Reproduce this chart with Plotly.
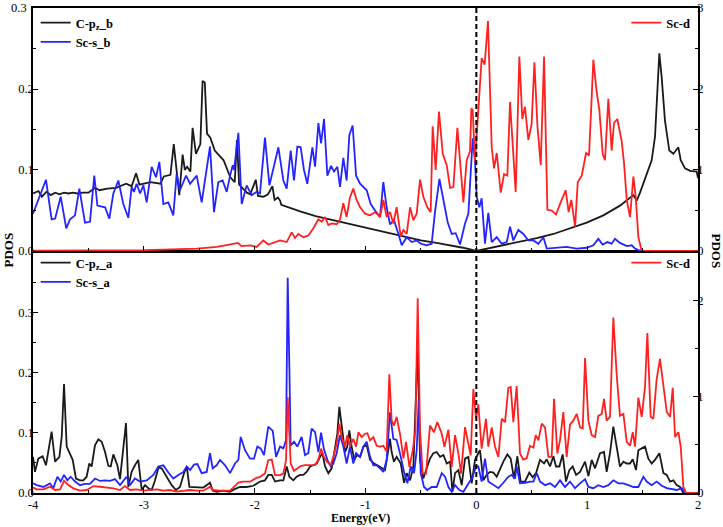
import plotly.graph_objects as go

# ---------------- Top panel (b) ----------------
top_cpz_E = [-4.00,-3.95,-3.92,-3.88,-3.84,-3.80,-3.76,-3.72,-3.68,-3.64,-3.60,-3.55,-3.50,-3.44,-3.40,-3.33,-3.25,-3.16,-3.11,-3.07,-3.04,-2.94,-2.85,-2.82,-2.76,-2.73,-2.68,-2.65,-2.63,-2.61,-2.58,-2.56,-2.53,-2.49,-2.47,-2.45,-2.43,-2.40,-2.36,-2.28,-2.22,-2.18,-2.16,-2.14,-2.07,-2.04,-1.99,-1.97,-1.92,-1.88,-1.84,-1.82,-1.79,-1.77,-1.76,-1.70,-1.59,-1.45,-1.29,-1.14,-0.99,-0.84,-0.69,-0.50,-0.36,-0.24,-0.12,0.00,0.244,0.394,0.545,0.695,0.845,0.996,1.146,1.296,1.417,1.447,1.477,1.537,1.582,1.612,1.651,1.672,1.702,1.741,1.778,1.823,1.844,1.883,1.928,1.988,2.00]
top_cpz_v = [0.071,0.074,0.067,0.073,0.069,0.072,0.070,0.072,0.071,0.072,0.071,0.072,0.072,0.078,0.075,0.077,0.078,0.083,0.080,0.096,0.082,0.085,0.083,0.092,0.094,0.132,0.069,0.119,0.100,0.104,0.098,0.152,0.120,0.132,0.210,0.208,0.145,0.140,0.124,0.112,0.091,0.085,0.137,0.082,0.072,0.070,0.088,0.068,0.067,0.070,0.080,0.063,0.066,0.062,0.057,0.054,0.049,0.043,0.038,0.033,0.028,0.023,0.019,0.013,0.010,0.007,0.004,0.000,0.007,0.011,0.016,0.021,0.028,0.035,0.044,0.056,0.069,0.062,0.072,0.095,0.112,0.141,0.244,0.215,0.161,0.124,0.120,0.128,0.112,0.102,0.099,0.098,0.090]

top_scs_E = [-4.00,-3.967,-3.883,-3.832,-3.80,-3.75,-3.70,-3.666,-3.621,-3.582,-3.531,-3.486,-3.447,-3.419,-3.35,-3.311,-3.275,-3.23,-3.185,-3.14,-3.11,-3.089,-3.065,-3.034,-3.004,-2.974,-2.929,-2.89,-2.86,-2.824,-2.779,-2.734,-2.704,-2.674,-2.619,-2.583,-2.523,-2.478,-2.448,-2.403,-2.367,-2.328,-2.289,-2.252,-2.222,-2.198,-2.186,-2.147,-2.117,-2.072,-2.027,-1.982,-1.952,-1.907,-1.867,-1.825,-1.786,-1.741,-1.711,-1.675,-1.645,-1.615,-1.585,-1.555,-1.525,-1.479,-1.455,-1.425,-1.401,-1.374,-1.344,-1.311,-1.284,-1.254,-1.23,-1.20,-1.17,-1.146,-1.116,-1.085,-1.049,-0.989,-0.953,-0.914,-0.869,-0.839,-0.809,-0.779,-0.743,-0.703,-0.673,-0.628,-0.583,-0.538,-0.502,-0.448,-0.403,-0.373,-0.333,-0.297,-0.258,-0.222,-0.186,-0.147,-0.102,-0.072,-0.033,-0.012,0.003,0.027,0.048,0.078,0.108,0.139,0.184,0.229,0.274,0.304,0.334,0.379,0.424,0.469,0.515,0.56,0.605,0.635,0.725,0.815,0.906,0.996,1.056,1.101,1.14,1.182,1.221,1.251,1.296,1.357,1.402,1.432,1.462,1.507,2.00]
top_scs_v = [0.046,0.058,0.088,0.039,0.040,0.067,0.028,0.039,0.044,0.077,0.035,0.036,0.093,0.056,0.054,0.040,0.071,0.087,0.058,0.041,0.079,0.073,0.083,0.071,0.081,0.060,0.104,0.091,0.110,0.058,0.060,0.044,0.095,0.075,0.093,0.083,0.093,0.060,0.087,0.129,0.048,0.085,0.087,0.073,0.093,0.106,0.100,0.146,0.058,0.081,0.069,0.073,0.071,0.140,0.081,0.104,0.128,0.087,0.077,0.124,0.087,0.129,0.128,0.100,0.083,0.128,0.104,0.158,0.133,0.163,0.093,0.105,0.098,0.104,0.079,0.115,0.087,0.143,0.155,0.093,0.083,0.075,0.058,0.050,0.042,0.085,0.054,0.033,0.038,0.021,0.007,0.017,0.011,0.013,0.009,0.007,0.009,0.048,0.089,0.063,0.035,0.021,0.022,0.008,0.034,0.046,0.139,0.111,0.067,0.054,0.065,0.009,0.047,0.011,0.017,0.009,0.011,0.030,0.013,0.026,0.021,0.013,0.013,0.009,0.017,0.003,0.004,0.005,0.003,0.004,0.007,0.015,0.008,0.011,0.009,0.015,0.010,0.006,0.007,0.003,0.001,0.000,0.000]

top_scd_E = [-4.00,-3.50,-3.00,-2.75,-2.52,-2.34,-2.15,-2.12,-2.04,-1.982,-1.922,-1.877,-1.831,-1.771,-1.711,-1.666,-1.636,-1.606,-1.561,-1.516,-1.47,-1.425,-1.395,-1.365,-1.335,-1.305,-1.26,-1.23,-1.20,-1.17,-1.14,-1.11,-1.085,-1.049,-1.004,-0.959,-0.914,-0.869,-0.839,-0.809,-0.779,-0.749,-0.719,-0.682,-0.658,-0.628,-0.598,-0.568,-0.538,-0.508,-0.478,-0.442,-0.412,-0.394,-0.367,-0.337,-0.303,-0.267,-0.237,-0.207,-0.171,-0.141,-0.117,-0.087,-0.057,-0.045,-0.033,-0.012,0.018,0.048,0.075,0.105,0.139,0.16,0.184,0.22,0.25,0.28,0.304,0.328,0.355,0.388,0.415,0.439,0.469,0.499,0.524,0.551,0.581,0.611,0.641,0.68,0.719,0.761,0.806,0.833,0.857,0.891,0.915,0.951,0.99,1.017,1.056,1.086,1.11,1.14,1.161,1.191,1.221,1.242,1.272,1.312,1.333,1.357,1.387,1.417,1.438,1.462,1.492,2.00]
top_scd_v = [0.005,0.005,0.01,0.02,0.03,0.05,0.10,0.06,0.07,0.05,0.13,0.08,0.10,0.13,0.11,0.23,0.16,0.21,0.17,0.19,0.28,0.39,0.36,0.42,0.32,0.34,0.33,0.39,0.59,0.42,0.66,0.77,0.65,0.54,0.46,0.44,0.48,0.42,0.63,0.42,0.48,0.34,0.54,0.18,0.26,0.21,0.54,0.38,0.46,0.88,0.67,0.54,0.48,1.54,1.00,1.72,1.20,1.06,0.78,0.79,1.52,0.95,0.60,1.12,1.23,1.76,1.74,1.10,1.70,2.38,2.30,2.84,1.28,1.02,1.21,0.72,0.95,0.93,1.84,1.33,0.73,2.40,1.63,1.78,1.37,1.57,2.33,1.55,1.06,2.40,0.51,0.50,0.45,0.60,0.75,0.48,0.63,0.30,0.85,0.93,1.21,1.18,2.36,1.96,1.74,1.20,1.12,1.88,1.24,1.58,1.63,1.35,1.08,0.63,0.42,0.92,0.67,0.17,0.00,0.00]

# ---------------- Bottom panel (a) ----------------
bot_cpz_E = [-4.00,-3.982,-3.952,-3.913,-3.883,-3.832,-3.801,-3.762,-3.741,-3.72,-3.696,-3.666,-3.642,-3.612,-3.576,-3.546,-3.516,-3.492,-3.471,-3.441,-3.41,-3.38,-3.35,-3.32,-3.299,-3.275,-3.239,-3.215,-3.185,-3.161,-3.14,-3.11,-3.08,-3.05,-3.019,-2.989,-2.959,-2.929,-2.899,-2.869,-2.839,-2.794,-2.749,-2.71,-2.674,-2.637,-2.613,-2.589,-2.523,-2.463,-2.403,-2.379,-2.343,-2.283,-2.222,-2.186,-2.132,-2.072,-2.012,-1.952,-1.907,-1.877,-1.846,-1.816,-1.771,-1.741,-1.711,-1.687,-1.651,-1.621,-1.591,-1.561,-1.531,-1.50,-1.47,-1.44,-1.41,-1.389,-1.365,-1.335,-1.305,-1.275,-1.254,-1.236,-1.215,-1.185,-1.164,-1.146,-1.125,-1.10,-1.079,-1.049,-1.019,-0.989,-0.959,-0.923,-0.893,-0.854,-0.824,-0.794,-0.779,-0.764,-0.743,-0.719,-0.682,-0.652,-0.628,-0.598,-0.568,-0.538,-0.529,-0.508,-0.478,-0.448,-0.418,-0.388,-0.358,-0.327,-0.297,-0.267,-0.237,-0.216,-0.192,-0.162,-0.132,-0.102,-0.072,-0.042,-0.012,0.018,0.033,0.063,0.093,0.123,0.154,0.184,0.214,0.244,0.28,0.31,0.34,0.37,0.40,0.439,0.478,0.508,0.539,0.575,0.611,0.635,0.665,0.695,0.719,0.749,0.779,0.809,0.839,0.869,0.90,0.936,0.981,1.011,1.041,1.071,1.116,1.152,1.176,1.206,1.236,1.266,1.296,1.327,1.357,1.387,1.411,1.441,1.462,1.492,1.522,1.552,1.582,1.612,1.652,1.688,1.718,1.748,1.778,1.808,1.838,1.868,2.00]
bot_cpz_v = [0.060,0.035,0.057,0.061,0.046,0.102,0.052,0.060,0.093,0.181,0.077,0.064,0.055,0.024,0.021,0.021,0.027,0.049,0.044,0.079,0.089,0.085,0.068,0.045,0.044,0.064,0.046,0.023,0.074,0.116,0.010,0.035,0.046,0.055,0.005,0.013,0.008,0.005,0.021,0.042,0.041,0.027,0.013,0.005,0.010,0.033,0.044,0.010,0.009,0.009,0.017,0.004,0.002,0.004,0.002,0.006,0.010,0.010,0.012,0.019,0.021,0.030,0.030,0.019,0.021,0.021,0.044,0.027,0.021,0.027,0.030,0.030,0.035,0.044,0.046,0.049,0.060,0.066,0.044,0.033,0.041,0.079,0.099,0.143,0.115,0.068,0.077,0.104,0.077,0.055,0.063,0.060,0.077,0.079,0.055,0.049,0.046,0.041,0.038,0.071,0.090,0.068,0.052,0.060,0.049,0.017,0.033,0.021,0.044,0.198,0.250,0.055,0.024,0.041,0.057,0.066,0.068,0.060,0.063,0.049,0.052,0.002,0.033,0.038,0.013,0.057,0.060,0.016,0.055,0.066,0.071,0.021,0.030,0.035,0.034,0.027,0.041,0.052,0.064,0.057,0.024,0.061,0.019,0.019,0.034,0.026,0.033,0.055,0.049,0.056,0.044,0.061,0.044,0.044,0.064,0.019,0.038,0.044,0.030,0.035,0.052,0.028,0.055,0.041,0.066,0.068,0.035,0.066,0.110,0.074,0.044,0.052,0.049,0.049,0.056,0.038,0.071,0.074,0.077,0.057,0.049,0.055,0.066,0.033,0.030,0.019,0.021,0.013,0.010,0.000,0.000]

bot_scs_E = [-4.00,-3.967,-3.907,-3.847,-3.817,-3.78,-3.75,-3.72,-3.69,-3.66,-3.621,-3.576,-3.531,-3.486,-3.44,-3.395,-3.35,-3.305,-3.26,-3.215,-3.155,-3.125,-3.08,-3.035,-2.974,-2.914,-2.869,-2.824,-2.779,-2.734,-2.689,-2.643,-2.613,-2.583,-2.547,-2.517,-2.478,-2.433,-2.403,-2.379,-2.343,-2.313,-2.267,-2.222,-2.177,-2.147,-2.126,-2.087,-2.042,-2.006,-1.976,-1.946,-1.916,-1.877,-1.837,-1.807,-1.771,-1.741,-1.717,-1.702,-1.687,-1.675,-1.645,-1.615,-1.576,-1.546,-1.516,-1.486,-1.455,-1.425,-1.401,-1.374,-1.344,-1.314,-1.29,-1.26,-1.23,-1.20,-1.17,-1.14,-1.11,-1.085,-1.049,-1.019,-0.989,-0.959,-0.929,-0.899,-0.869,-0.839,-0.809,-0.779,-0.749,-0.719,-0.689,-0.652,-0.622,-0.592,-0.562,-0.538,-0.52,-0.502,-0.472,-0.442,-0.403,-0.358,-0.312,-0.282,-0.252,-0.222,-0.192,-0.153,-0.117,-0.072,-0.033,-0.003,0.018,0.048,0.078,0.108,0.154,0.199,0.244,0.289,0.319,0.349,0.364,0.394,0.439,0.484,0.515,0.545,0.575,0.62,0.665,0.71,0.755,0.80,0.845,0.89,0.936,0.981,1.011,1.056,1.101,1.146,1.191,1.236,1.282,1.327,1.372,1.417,1.462,1.507,1.537,1.582,1.627,1.673,1.718,1.763,1.808,1.853,1.883,2.00]
bot_scs_v = [0.016,0.013,0.010,0.016,0.008,0.027,0.019,0.030,0.021,0.027,0.019,0.013,0.015,0.015,0.024,0.020,0.021,0.020,0.023,0.013,0.027,0.013,0.024,0.019,0.021,0.030,0.044,0.046,0.034,0.024,0.030,0.035,0.044,0.038,0.047,0.048,0.033,0.035,0.066,0.041,0.046,0.055,0.046,0.033,0.049,0.055,0.093,0.071,0.057,0.057,0.077,0.074,0.063,0.110,0.103,0.060,0.077,0.074,0.088,0.357,0.209,0.079,0.085,0.077,0.093,0.063,0.066,0.107,0.101,0.068,0.100,0.072,0.055,0.044,0.049,0.066,0.096,0.077,0.049,0.077,0.049,0.066,0.060,0.077,0.085,0.060,0.046,0.046,0.041,0.035,0.055,0.134,0.090,0.088,0.066,0.035,0.016,0.044,0.033,0.071,0.154,0.033,0.010,0.005,0.010,0.010,0.033,0.027,0.010,0.002,0.013,0.005,0.002,0.016,0.027,0.044,0.044,0.019,0.057,0.019,0.013,0.008,0.017,0.027,0.030,0.024,0.044,0.016,0.017,0.019,0.019,0.033,0.019,0.013,0.016,0.010,0.021,0.010,0.019,0.008,0.016,0.023,0.010,0.008,0.013,0.010,0.013,0.021,0.016,0.016,0.013,0.010,0.010,0.027,0.019,0.013,0.019,0.012,0.008,0.006,0.005,0.008,0.000,0.000]

bot_scd_E = [-4.00,-3.967,-3.907,-3.847,-3.801,-3.756,-3.72,-3.681,-3.636,-3.576,-3.516,-3.456,-3.395,-3.335,-3.275,-3.215,-3.17,-3.125,-3.065,-3.004,-2.944,-2.884,-2.824,-2.764,-2.704,-2.643,-2.583,-2.523,-2.463,-2.403,-2.373,-2.313,-2.222,-2.147,-2.102,-2.042,-1.982,-1.952,-1.907,-1.877,-1.846,-1.816,-1.771,-1.741,-1.717,-1.702,-1.687,-1.675,-1.645,-1.615,-1.585,-1.546,-1.50,-1.455,-1.425,-1.401,-1.374,-1.344,-1.314,-1.29,-1.26,-1.236,-1.215,-1.185,-1.164,-1.14,-1.11,-1.085,-1.064,-1.034,-1.004,-0.983,-0.959,-0.929,-0.899,-0.869,-0.839,-0.809,-0.785,-0.764,-0.743,-0.719,-0.689,-0.658,-0.634,-0.604,-0.574,-0.55,-0.529,-0.508,-0.484,-0.454,-0.418,-0.382,-0.352,-0.312,-0.288,-0.252,-0.222,-0.192,-0.162,-0.138,-0.102,-0.072,-0.051,-0.027,-0.003,0.018,0.048,0.087,0.108,0.139,0.169,0.199,0.229,0.259,0.289,0.31,0.334,0.364,0.394,0.424,0.454,0.484,0.515,0.536,0.56,0.59,0.62,0.65,0.68,0.701,0.731,0.755,0.785,0.815,0.845,0.875,0.906,0.936,0.96,0.981,1.011,1.041,1.071,1.101,1.131,1.152,1.176,1.206,1.236,1.266,1.296,1.327,1.357,1.387,1.411,1.432,1.462,1.492,1.522,1.543,1.573,1.597,1.627,1.657,1.688,1.718,1.748,1.772,1.793,1.823,1.844,1.868,1.892,2.00]
bot_scd_v = [0.058,0.038,0.038,0.065,0.031,0.038,0.127,0.082,0.048,0.024,0.031,0.072,0.065,0.058,0.048,0.031,0.072,0.031,0.038,0.024,0.031,0.038,0.024,0.031,0.014,0.024,0.031,0.024,0.024,0.065,0.031,0.024,0.024,0.107,0.117,0.117,0.158,0.168,0.203,0.340,0.347,0.186,0.186,0.203,0.34,0.993,0.68,0.306,0.23,0.254,0.28,0.289,0.289,0.289,0.347,0.46,0.37,0.32,0.29,0.375,0.51,0.72,0.58,0.48,0.60,0.49,0.56,0.48,0.63,0.58,0.615,0.62,0.546,0.58,0.49,0.48,0.49,0.43,1.23,0.75,0.70,0.79,0.615,0.36,0.53,0.27,0.44,0.65,2.02,0.65,0.20,0.20,0.70,0.63,0.735,0.615,0.48,0.656,0.27,0.60,0.41,0.20,0.684,0.49,0.39,1.08,0.77,0.92,0.46,0.77,0.48,0.68,0.48,0.375,0.77,0.735,1.09,1.10,0.735,1.11,0.41,0.347,0.36,0.49,0.47,0.60,0.546,0.72,0.68,0.375,0.375,0.976,0.41,0.546,0.84,0.375,0.71,0.75,0.82,0.68,0.67,1.40,0.75,0.60,0.58,0.80,0.82,0.976,0.75,0.79,1.82,1.23,0.80,0.82,0.53,0.49,0.63,0.48,0.99,0.79,1.10,1.66,0.79,0.77,1.18,1.39,1.13,0.84,0.79,1.09,0.58,0.63,0.48,0.065,0.0,0.0]

x_ticks = [-4, -3, -2, -1, 0, 1, 2]
top_left_ticks = [0.0, 0.1, 0.2]
top_left_max = 0.3
bot_left_ticks = [0.0, 0.1, 0.2, 0.3]
top_right_ticks = [0, 1, 2, 3]
bot_right_ticks = [0, 1, 2]

BLACK = "#1a1a1a"
BLUE = "#2424ff"
RED = "#ff2020"
FONT = "Liberation Serif"
LW = 1.8

fig = go.Figure()

# bottom panel
fig.add_trace(go.Scatter(x=bot_cpz_E, y=bot_cpz_v, mode="lines", name="C-p<sub>z</sub>_a",
                         line=dict(color=BLACK, width=LW), xaxis="x", yaxis="y", legend="legend3"))
fig.add_trace(go.Scatter(x=bot_scs_E, y=bot_scs_v, mode="lines", name="Sc-s_a",
                         line=dict(color=BLUE, width=LW), xaxis="x", yaxis="y", legend="legend3"))
fig.add_trace(go.Scatter(x=bot_scd_E, y=bot_scd_v, mode="lines", name="Sc-d",
                         line=dict(color=RED, width=LW), xaxis="x", yaxis="y2", legend="legend4"))
# top panel
fig.add_trace(go.Scatter(x=top_cpz_E, y=top_cpz_v, mode="lines", name="C-p<sub>z</sub>_b",
                         line=dict(color=BLACK, width=LW), xaxis="x2", yaxis="y3", legend="legend"))
fig.add_trace(go.Scatter(x=top_scs_E, y=top_scs_v, mode="lines", name="Sc-s_b",
                         line=dict(color=BLUE, width=LW), xaxis="x2", yaxis="y3", legend="legend"))
fig.add_trace(go.Scatter(x=top_scd_E, y=top_scd_v, mode="lines", name="Sc-d",
                         line=dict(color=RED, width=LW), xaxis="x2", yaxis="y4", legend="legend2"))

tickfont = dict(family=FONT, size=12.5, color="black")
axis_common = dict(showline=True, linecolor="black", linewidth=1.5, ticks="inside",
                   ticklen=5, tickwidth=1.3, tickcolor="black", showgrid=False,
                   zeroline=False, tickfont=tickfont, automargin=False,
                   ticklabeloverflow="allow")
minor_x = dict(dtick=0.5, ticks="inside", ticklen=3, tickcolor="black", tickwidth=1.2)
minor_l = dict(dtick=0.05, ticks="inside", ticklen=3, tickcolor="black", tickwidth=1.2)
minor_r = dict(dtick=0.5, ticks="inside", ticklen=3, tickcolor="black", tickwidth=1.2)

bot_dom = [0, 0.497]
top_dom = [0.499, 1]

legfont = dict(family=FONT, size=12.5, color="black", weight="bold")
leg_common = dict(font=legfont, bgcolor="rgba(0,0,0,0)", borderwidth=0, itemwidth=30,
                  itemclick=False)

fig.update_layout(
    width=723, height=527,
    margin=dict(l=33, r=25, t=8, b=34, autoexpand=False),
    paper_bgcolor="white", plot_bgcolor="white",
    xaxis=dict(**axis_common, domain=[0, 1], range=[-4, 2], anchor="y", mirror=True,
               tickvals=x_ticks, ticktext=[str(v) for v in x_ticks], ticklabelstandoff=-1,
               minor=minor_x),
    yaxis=dict(**axis_common, domain=bot_dom, range=[0, 0.4], anchor="x",
               tickvals=bot_left_ticks, ticktext=["%.1f" % v for v in bot_left_ticks],
               ticklabelstandoff=-5, minor=minor_l),
    yaxis2=dict(**axis_common, overlaying="y", side="right", range=[0, 2.5], anchor="x",
                tickvals=bot_right_ticks, ticktext=[str(v) for v in bot_right_ticks],
                ticklabelstandoff=-5, minor=minor_r),
    xaxis2=dict(**axis_common, domain=[0, 1], range=[-4, 2], anchor="y3", mirror=True,
                showticklabels=False, tickvals=x_ticks, minor=minor_x),
    yaxis3=dict(**axis_common, domain=top_dom, range=[0, top_left_max], anchor="x2",
                tickvals=top_left_ticks, ticktext=["%.1f" % v for v in top_left_ticks],
                ticklabelstandoff=-5, minor=minor_l),
    yaxis4=dict(**axis_common, overlaying="y3", side="right", range=[0, 3], anchor="x2",
                tickvals=top_right_ticks, ticktext=[str(v) for v in top_right_ticks],
                ticklabelstandoff=-5, minor=minor_r),
    legend=dict(**leg_common, x=0.004, y=1.0, xanchor="left", yanchor="top"),
    legend2=dict(**leg_common, x=0.996, y=1.0, xanchor="right", yanchor="top"),
    legend3=dict(**leg_common, x=0.004, y=0.505, xanchor="left", yanchor="top"),
    legend4=dict(**leg_common, x=0.996, y=0.505, xanchor="right", yanchor="top"),
    showlegend=True,
)

# top-most left tick label of the upper panel (placed through the y3 scale)
fig.add_annotation(text="%.1f" % top_left_max, xref="paper", yref="y3", x=0, y=top_left_max,
                   xanchor="right", yanchor="middle", xshift=-4, showarrow=False,
                   font=tickfont)

# Fermi level dashed line across both panels
fig.add_shape(type="line", xref="x", yref="paper", x0=0, x1=0, y0=0, y1=1,
              line=dict(color="black", width=2, dash="5px,3px"), layer="above")

fig.add_annotation(text="Energy(eV)", xref="paper", yref="paper", x=0.493, y=0,
                   xanchor="center", yanchor="middle", yshift=-25, showarrow=False,
                   font=dict(family=FONT, size=12, color="black", weight="bold"))
fig.add_annotation(text="PDOS", xref="paper", yref="paper", x=0, y=0.5, xshift=-25,
                   xanchor="center", yanchor="middle", textangle=-90, showarrow=False,
                   font=dict(family=FONT, size=13, color="black", weight="bold"))
fig.add_annotation(text="PDOS", xref="paper", yref="paper", x=1, y=0.5, xshift=18,
                   xanchor="center", yanchor="middle", textangle=90, showarrow=False,
                   font=dict(family=FONT, size=13, color="black", weight="bold"))

# the page would otherwise offset the figure by the default 8 px body margin
fig.write_html("out.html", config={"displayModeBar": False},
               post_script="document.body.style.margin='0';")
